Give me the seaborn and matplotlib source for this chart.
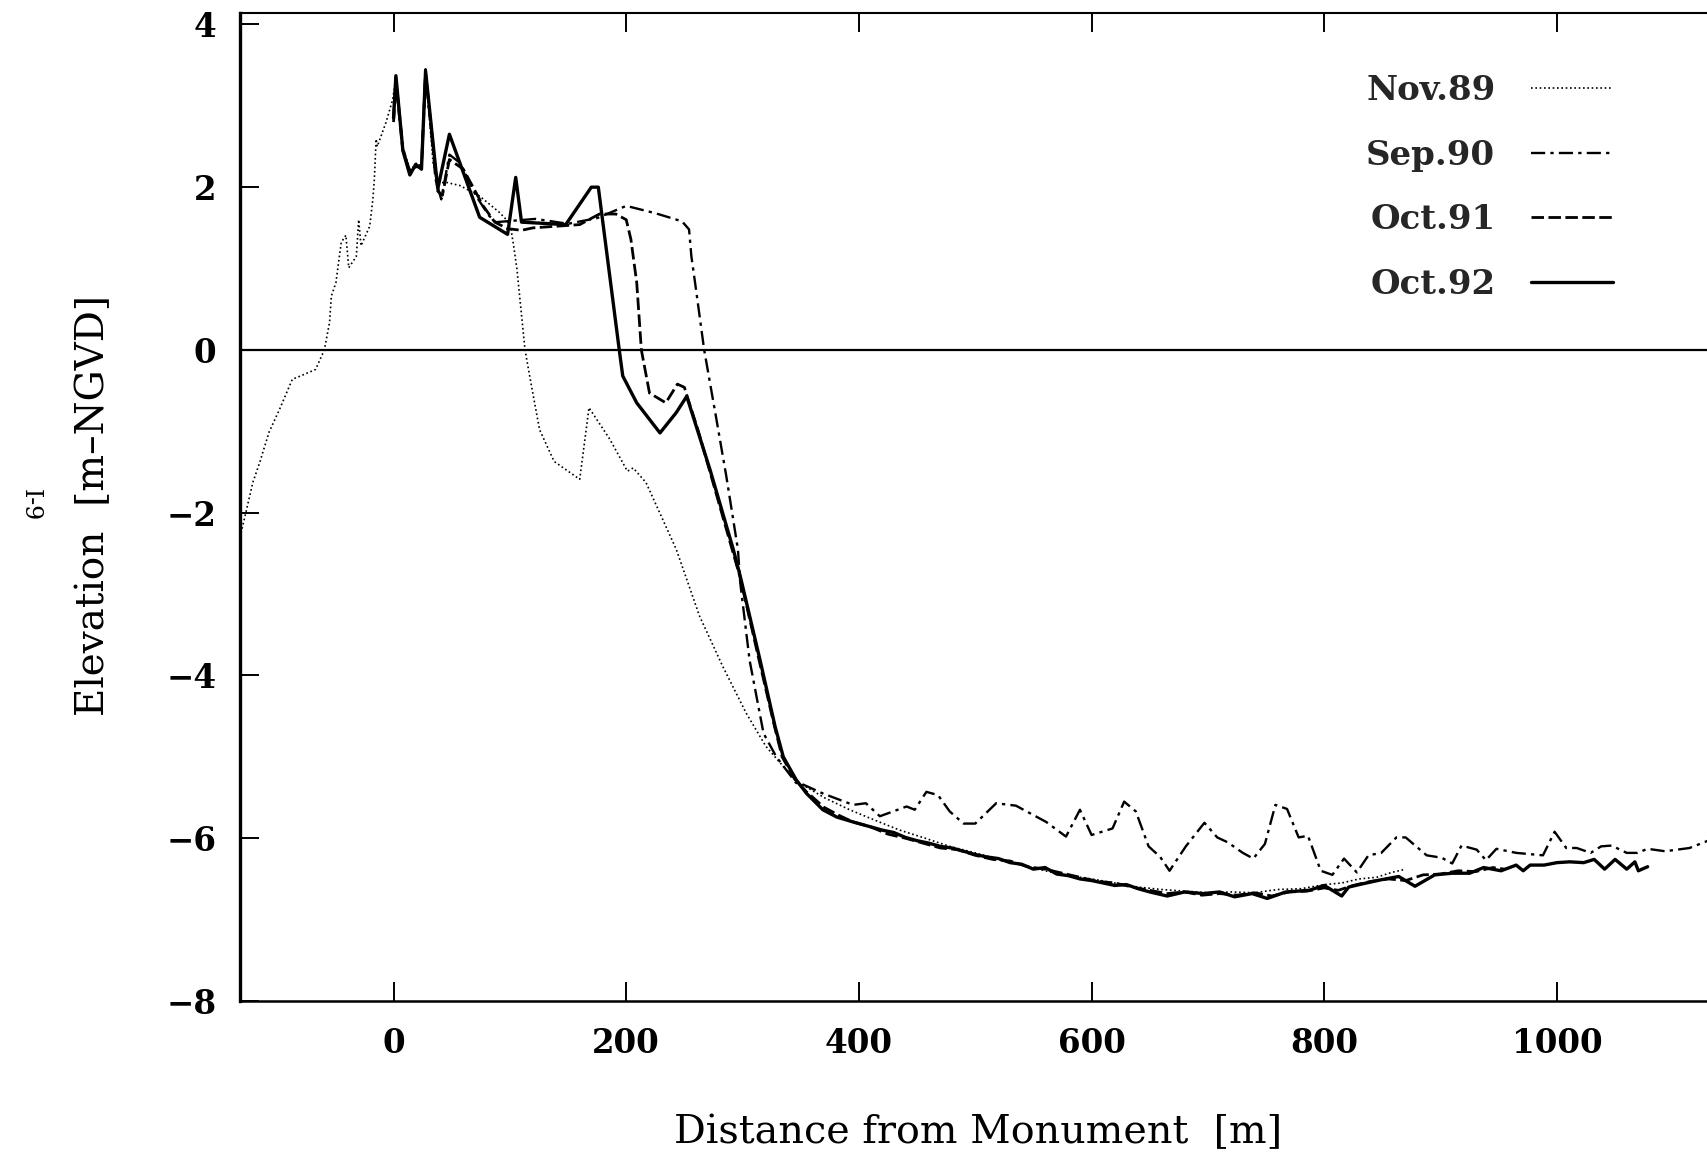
import matplotlib
matplotlib.use("Agg")
import matplotlib.pyplot as plt
from matplotlib.font_manager import FontProperties
import seaborn as sns

# ---------------- data ----------------
nov89_x = [-132, -127, -121, -115, -107, -98, -87, -80, -67, -59.5, -55, -53.5, -49.5, -45, -41, -38.5,
           -32, -30, -28, -20.5, -17.8, -16.5, -15, -14, -6.4, -0.7, 2, 8, 14, 20, 24, 27.5, 34, 38,
           45, 57, 74, 91, 97, 101, 103, 106, 113, 118, 125.5, 138, 160, 168, 186, 201, 206, 217,
           243, 263, 283, 303, 320, 340, 349, 370, 392, 414, 435, 457, 478, 500, 520, 540, 560, 580,
           600, 620, 640, 660, 680, 700, 720, 740, 760, 780, 800, 815, 830, 845, 858, 870]
nov89_y = [-2.30, -2.00, -1.63, -1.38, -1.01, -0.73, -0.36, -0.32, -0.24, 0.00, 0.34, 0.66, 0.83, 1.32,
           1.41, 1.01, 1.15, 1.60, 1.28, 1.52, 1.85, 2.10, 2.59, 2.50, 2.80, 3.08, 3.35, 2.50, 2.20,
           2.30, 2.25, 3.40, 2.30, 2.05, 2.06, 2.02, 1.89, 1.69, 1.60, 1.48, 1.30, 1.00, 0.00, -0.40,
           -0.98, -1.37, -1.59, -0.71, -1.10, -1.49, -1.45, -1.63, -2.45, -3.27, -3.89, -4.46, -4.87,
           -5.20, -5.32, -5.50, -5.65, -5.78, -5.90, -6.00, -6.10, -6.18, -6.26, -6.33, -6.40, -6.46,
           -6.50, -6.55, -6.60, -6.63, -6.65, -6.67, -6.66, -6.67, -6.63, -6.62, -6.57, -6.55, -6.50,
           -6.48, -6.42, -6.38]

sep90_x = [0, 2, 8, 13, 19, 24, 27.5, 36, 41, 48, 57, 71, 82, 88, 105, 122, 150, 175, 200, 225, 248,
           254, 256, 260, 267, 277, 286, 296, 298, 306, 318, 329, 346, 352, 369, 395, 406, 418, 441,
           448, 458, 468, 478, 490, 500, 518, 535, 561, 578, 590, 600, 618, 628, 638, 649, 659, 667,
           681, 697, 708, 717, 730, 739, 749, 758, 768, 778, 786, 797, 807, 817, 828, 838, 849, 862,
           870, 888, 901, 910, 918, 931, 939, 948, 965, 988, 998, 1008, 1017, 1029, 1038, 1047, 1060,
           1069, 1078, 1093, 1114, 1130]
sep90_y = [2.90, 3.35, 2.50, 2.20, 2.25, 2.25, 3.45, 2.10, 1.85, 2.40, 2.30, 1.89, 1.65, 1.57, 1.59,
           1.61, 1.55, 1.62, 1.77, 1.68, 1.58, 1.48, 1.15, 0.74, 0.00, -0.81, -1.55, -2.45, -2.86,
           -3.81, -4.71, -5.00, -5.32, -5.34, -5.45, -5.59, -5.57, -5.73, -5.61, -5.65, -5.43, -5.47,
           -5.67, -5.82, -5.82, -5.57, -5.60, -5.80, -5.98, -5.65, -5.96, -5.88, -5.55, -5.67, -6.10,
           -6.23, -6.40, -6.10, -5.81, -5.99, -6.05, -6.18, -6.25, -6.07, -5.59, -5.64, -5.99, -5.97,
           -6.40, -6.45, -6.25, -6.42, -6.21, -6.18, -5.99, -5.99, -6.21, -6.24, -6.31, -6.09, -6.14,
           -6.27, -6.13, -6.18, -6.21, -5.92, -6.12, -6.12, -6.18, -6.10, -6.09, -6.18, -6.18, -6.13,
           -6.16, -6.12, -6.03]

oct91_x = [0, 2, 8, 14, 19, 24, 27.5, 38, 42, 48, 60, 77, 87, 98, 110, 120, 140, 160, 177, 191, 200,
           204, 209, 213, 220, 234, 244, 250, 253, 262, 272, 282, 292, 298, 314, 327, 334, 345, 355,
           370, 383, 395, 410, 425, 440, 455, 470, 485, 500, 515, 530, 545, 560, 575, 590, 605, 620,
           635, 650, 665, 680, 695, 710, 725, 740, 755, 770, 785, 800, 812, 825, 840, 855, 870, 885,
           900, 915, 930, 945, 955]
oct91_y = [2.80, 3.30, 2.45, 2.20, 2.25, 2.25, 3.40, 1.95, 1.90, 2.34, 2.22, 1.77, 1.57, 1.49, 1.47,
           1.50, 1.52, 1.54, 1.67, 1.67, 1.60, 1.36, 0.83, 0.00, -0.53, -0.65, -0.42, -0.46, -0.60,
           -1.00, -1.50, -2.00, -2.50, -2.80, -3.80, -4.60, -5.00, -5.28, -5.43, -5.62, -5.72, -5.80,
           -5.86, -5.95, -6.00, -6.06, -6.12, -6.14, -6.21, -6.26, -6.28, -6.35, -6.38, -6.43, -6.48,
           -6.53, -6.55, -6.60, -6.64, -6.68, -6.66, -6.70, -6.68, -6.70, -6.67, -6.71, -6.66, -6.65,
           -6.61, -6.64, -6.58, -6.53, -6.50, -6.52, -6.45, -6.44, -6.40, -6.41, -6.36, -6.38]

oct92_x = [0, 2, 8, 14, 19, 24, 27.5, 38, 48, 74, 98, 105, 110, 148, 170, 176, 194, 197, 209, 229,
           243, 252, 272, 292, 298, 315, 328, 335, 346, 355, 369, 381, 395, 410, 420, 430, 440, 450,
           460, 470, 480, 490, 500, 510, 520, 530, 540, 550, 560, 570, 580, 590, 600, 610, 620, 630,
           640, 650, 665, 680, 696, 710, 723, 738, 751, 767, 787, 800, 815, 821, 833, 849, 864, 878,
           895, 910, 925, 937, 952, 965, 971, 977, 989, 1000, 1011, 1023, 1032, 1041, 1050, 1060,
           1067, 1070, 1078]
oct92_y = [2.85, 3.37, 2.45, 2.15, 2.28, 2.22, 3.43, 1.98, 2.65, 1.63, 1.42, 2.12, 1.57, 1.54, 2.00,
           2.00, 0.00, -0.32, -0.65, -1.02, -0.77, -0.57, -1.47, -2.45, -2.78, -3.81, -4.63, -5.00,
           -5.28, -5.45, -5.65, -5.74, -5.80, -5.86, -5.90, -5.93, -5.99, -6.03, -6.06, -6.10, -6.12,
           -6.16, -6.20, -6.23, -6.25, -6.30, -6.32, -6.38, -6.36, -6.44, -6.46, -6.50, -6.52, -6.55,
           -6.58, -6.57, -6.62, -6.66, -6.71, -6.66, -6.68, -6.66, -6.72, -6.68, -6.74, -6.66, -6.64,
           -6.58, -6.71, -6.60, -6.56, -6.51, -6.47, -6.59, -6.45, -6.43, -6.43, -6.36, -6.40, -6.33,
           -6.40, -6.33, -6.33, -6.30, -6.29, -6.30, -6.26, -6.38, -6.26, -6.38, -6.29, -6.40, -6.35]

series_labels = ["Nov.89", "Sep.90", "Oct.91", "Oct.92"]
x_ticks = [0, 200, 400, 600, 800, 1000]
y_ticks = [-8, -6, -4, -2, 0, 2, 4]

# ---------------- styling ----------------
sns.set_theme(style="white")
plt.rcParams["font.family"] = ["DejaVu Serif"]
plt.rcParams["axes.unicode_minus"] = True

fig = plt.figure(figsize=(17.07, 11.52), dpi=100)
ax = fig.add_axes([240 / 1707, 151 / 1152, 1467 / 1707, 988 / 1152])

ax.axhline(0, color="black", lw=1.6, zorder=1)

styles = [
    dict(linestyle=(0, (1.0, 1.6)), lw=1.2),
    dict(linestyle=(0, (6, 2.2, 1.4, 2.2)), lw=1.7),
    dict(linestyle=(0, (4.5, 1.6)), lw=2.0),
    dict(linestyle="-", lw=2.4),
]
data = [(nov89_x, nov89_y), (sep90_x, sep90_y), (oct91_x, oct91_y), (oct92_x, oct92_y)]
for (xs, ys), lab, st in zip(data, series_labels, styles):
    sns.lineplot(x=xs, y=ys, ax=ax, color="black", label=lab, sort=False,
                 estimator=None, **st)

ax.set_xlim(-132, 1129)
ax.set_ylim(-8, 4.14)
ax.set_xticks(x_ticks)
ax.set_yticks(y_ticks)
ax.set_xlabel("")
ax.set_ylabel("")

ax.tick_params(axis="both", direction="in", length=14, width=1.4, color="black",
               labelsize=23.5, labelcolor="black")
ax.tick_params(axis="x", top=True, bottom=True, labeltop=False, pad=19)
ax.tick_params(axis="y", left=True, right=False, pad=17)
for lbl in ax.get_xticklabels() + ax.get_yticklabels():
    lbl.set_fontweight("bold")

for side in ["left", "top", "bottom"]:
    ax.spines[side].set_visible(True)
    ax.spines[side].set_color("black")
ax.spines["left"].set_linewidth(2.4)
ax.spines["top"].set_linewidth(1.5)
ax.spines["bottom"].set_linewidth(1.8)
ax.spines["right"].set_visible(False)

leg = ax.legend(loc="upper left", bbox_to_anchor=(1366 / 1707, 1 - 74 / 1152),
                bbox_transform=fig.transFigure, frameon=False, markerfirst=False,
                handlelength=2.4, handletextpad=1.06, labelspacing=0.93,
                borderpad=0, borderaxespad=0,
                prop=FontProperties(family="DejaVu Serif", weight="bold", size=24.5))

fig.text(978 / 1707, 1 - 1133 / 1152, "Distance from Monument  [m]", ha="center",
         va="center", fontsize=28.5, color="black")
fig.text(94 / 1707, 1 - 505 / 1152, "Elevation  [m\u2013NGVD]", ha="center", va="center",
         rotation=90, fontsize=28, color="black")
fig.text(30 / 1707, 1 - 505 / 1152, "I-9", ha="center", va="center", rotation=270,
         fontsize=17, color="black")

fig.savefig("out.png", dpi=100)
